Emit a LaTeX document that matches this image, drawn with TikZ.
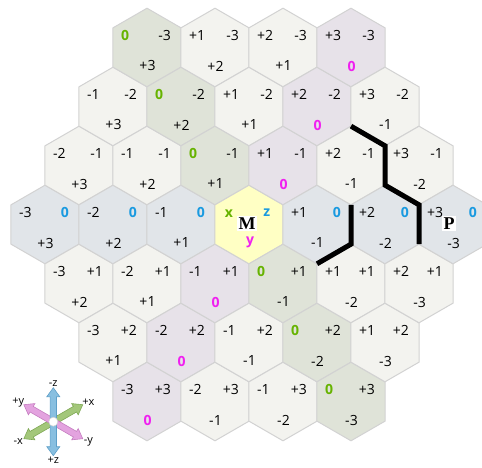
\documentclass[tikz,border=0pt]{standalone}
\usepackage{fontspec}
\setmainfont{Open Sans}
\newfontfamily\mserif{Liberation Serif}
\usetikzlibrary{calc}
\definecolor{hn}{HTML}{F3F3EF}
\definecolor{hg}{HTML}{DFE3D8}
\definecolor{hb}{HTML}{E1E5E9}
\definecolor{hp}{HTML}{E7E2E9}
\definecolor{hy}{HTML}{FFFFC4}
\definecolor{hedge}{HTML}{D2D2D2}
\definecolor{zx}{HTML}{66B300}
\definecolor{zz}{HTML}{1A9AE0}
\definecolor{zy}{HTML}{F020F0}
\definecolor{glight}{HTML}{A3C77A}
\definecolor{gdark}{HTML}{7FA855}
\definecolor{plight}{HTML}{E3A3DF}
\definecolor{pdark}{HTML}{C57DC0}
\definecolor{blight}{HTML}{88BFE0}
\definecolor{bdark}{HTML}{5E9FC8}
\newcommand\hexnum[2]{\ifnum#1=0 \textcolor{#2}{\bfseries 0}\else\ifnum#1>0 +\fi#1\fi}
\tikzset{axarr/.pic={\draw[pic actions, line width=0.6pt] (-34,0) -- (-25,-6.5) -- (-25,-3.2) -- (25,-3.2) -- (25,-6.5) -- (34,0) -- (25,6.5) -- (25,3.2) -- (-25,3.2) -- (-25,6.5) -- cycle;}}
\begin{document}
\begin{tikzpicture}[x=1pt,y=-1pt,
  hexedge/.style={draw=hedge, line width=1pt},
  numlab/.style={inner sep=0pt, font=\fontsize{14}{16}\selectfont},
  letlab/.style={inner sep=0pt, font=\bfseries\fontsize{14}{16}\selectfont},
  bigl/.style={fill=white, inner sep=1.5pt, font=\mserif\bfseries\fontsize{18}{20}\selectfont},
  pathline/.style={line width=5pt, black, line join=miter},
  axlab/.style={inner sep=0pt, font=\fontsize{11}{12}\selectfont}]
\useasboundingbox (0,0) rectangle (482,468);
\clip (0,0) rectangle (482,468);
\foreach \x in {-3,...,3}{\foreach \z in {-3,...,3}{%
  \pgfmathtruncatemacro\y{-\x-\z}%
  \pgfmathtruncatemacro\xi{\x+3}%
  \pgfmathtruncatemacro\zi{\z+3}%
  \pgfmathtruncatemacro\ok{abs(\y)<=3}%
  \ifnum\ok=1
    \pgfmathsetmacro\cx{249+68*(\x+\z/2)}%
    \pgfmathsetmacro\cy{224.5+59*\z}%
    \def\hf{hn}%
    \ifnum\y=0 \def\hf{hp}\fi
    \ifnum\z=0 \def\hf{hb}\fi
    \ifnum\x=0 \def\hf{hg}\fi
    \pgfmathtruncatemacro\isc{(\x==0)&&(\z==0)}%
    \ifnum\isc=1 \def\hf{hy}\fi
    \coordinate (h\xi\zi) at (\cx,\cy);
    \draw[hexedge,fill=\hf] (h\xi\zi) +(30:39.3) -- +(90:39.3) -- +(150:39.3) -- +(210:39.3) -- +(270:39.3) -- +(330:39.3) -- cycle;
    \ifnum\isc=0
      \node[numlab, anchor=west] (lx\xi\zi) at (\cx-26,\cy-12) {\hexnum{\x}{zx}};
      \node[numlab, anchor=east] (lz\xi\zi) at (\cx+24,\cy-12) {\hexnum{\z}{zz}};
      \node[numlab] (ly\xi\zi) at (\cx+0.5,\cy+18.5) {\hexnum{\y}{zy}};
    \fi
  \fi
}}
% centre hex labels
\node[letlab, text=zx] (mx) at (229,213.3) {x};
\node[letlab, text=zz] (mz) at (266.7,212.3) {z};
\node[letlab, text=zy] (my) at (250,242) {y};
\node[bigl] (M) at (247,223.3) {M};
\node[bigl] (P) at (449,223.3) {P};
% path vertices
\coordinate (v1) at ($(h51)+(34,19.65)$);
\coordinate (v2) at ($(h61)+(0,39.3)$);
\coordinate (v3) at ($(h52)+(34,19.65)$);
\coordinate (v4) at ($(h62)+(0,39.3)$);
\coordinate (v5) at ($(h63)+(-34,19.65)$);
\coordinate (w1) at ($(h53)+(-34,-19.65)$);
\coordinate (w2) at ($(h53)+(-34,19.65)$);
\coordinate (w3) at ($(h43)+(0,39.3)$);
\draw[pathline] (v1) -- (v2) -- (v3) -- (v4) -- (v5);
\draw[pathline] (w1) -- (w2) -- (w3);
% axis icon
\coordinate (ax) at (53.3,421.7);
\pic[draw=gdark, fill=glight, rotate=30] at (ax) {axarr};
\pic[draw=pdark, fill=plight, rotate=-30] at (ax) {axarr};
\pic[draw=bdark, fill=blight, rotate=90] at (ax) {axarr};
\node[circle, fill=white, draw=gray!35, line width=0.5pt, minimum size=9pt, inner sep=0pt] (axc) at (ax) {};
\node[axlab] (amz) at (53.3,383.3) {-z};
\node[axlab] (apz) at (53.3,460.7) {+z};
\node[axlab] (apy) at (18.3,402.3) {+y};
\node[axlab] (apx) at (88.3,402.3) {+x};
\node[axlab] (amx) at (18.3,441.7) {-x};
\node[axlab] (amy) at (88.3,441.7) {-y};
\end{tikzpicture}
\end{document}
